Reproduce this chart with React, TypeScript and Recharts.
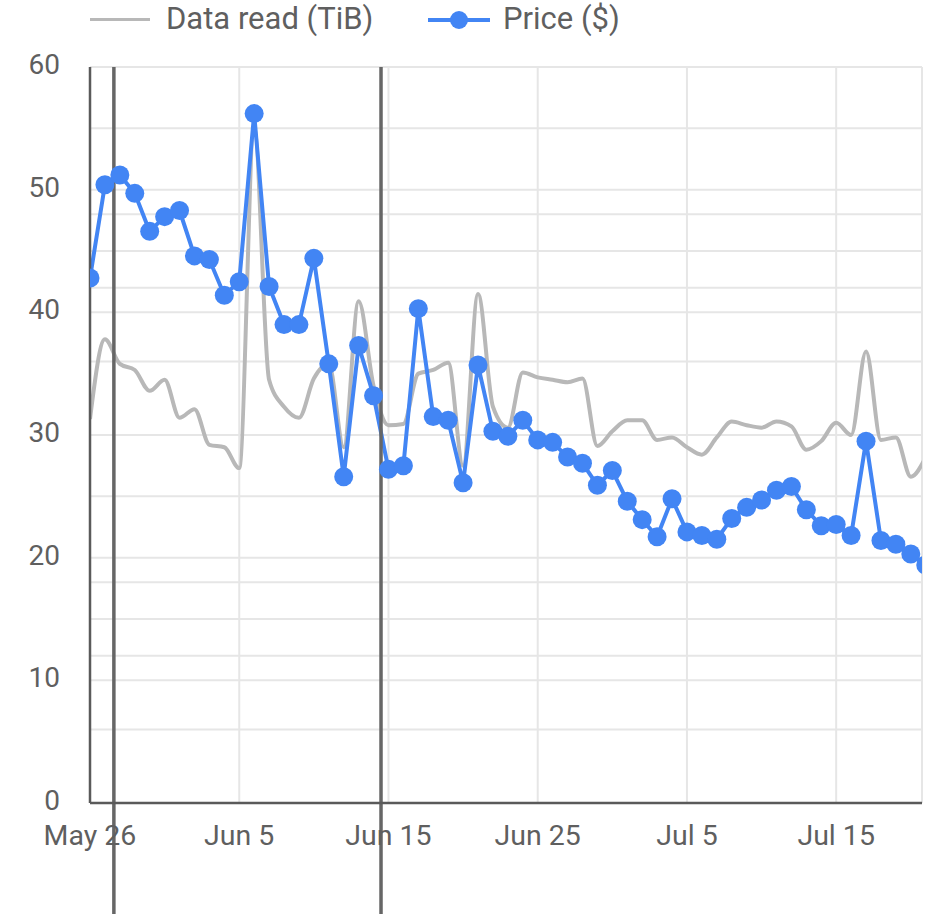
import { LineChart, Line, XAxis, YAxis, CartesianGrid, ReferenceLine } from 'recharts'

// day 0 = May 26; one entry per day
const priceUsd = [
  42.8, 50.4, 51.2, 49.7, 46.6, 47.8, 48.3, 44.6, 44.3, 41.4,
  42.5, 56.2, 42.1, 39.0, 39.0, 44.4, 35.8, 26.6, 37.3, 33.2,
  27.2, 27.5, 40.3, 31.5, 31.2, 26.1, 35.7, 30.3, 29.9, 31.2,
  29.6, 29.4, 28.2, 27.7, 25.9, 27.1, 24.6, 23.1, 21.7, 24.8,
  22.1, 21.8, 21.5, 23.2, 24.1, 24.7, 25.5, 25.8, 23.9, 22.6,
  22.7, 21.8, 29.5, 21.4, 21.1, 20.3, 19.4,
]
const dataReadTib = [
  31.3, 37.8, 35.8, 35.3, 33.6, 34.5, 31.4, 32.1, 29.2, 29.0,
  27.3, 55.0, 34.5, 32.3, 31.4, 34.6, 35.8, 29.0, 40.9, 34.0,
  30.8, 30.9, 35.0, 35.3, 35.9, 27.5, 41.5, 32.3, 30.6, 35.1,
  34.7, 34.5, 34.3, 34.6, 29.1, 30.3, 31.2, 31.2, 29.6, 29.8,
  29.0, 28.4, 29.8, 31.1, 30.8, 30.6, 31.1, 30.7, 28.8, 29.5,
  31.0, 30.0, 36.8, 29.6, 29.8, 26.6, 28.2,
]
const tickDays = [0, 10, 20, 30, 40, 50]
const tickLabels = ['May 26', 'Jun 5', 'Jun 15', 'Jun 25', 'Jul 5', 'Jul 15']
const yTicks = [0, 10, 20, 30, 40, 50, 60]
// major ticks, minor lines (every 5) and the hidden data-read axis grid (every 6)
const gridValues = [0, 5, 6, 10, 12, 15, 18, 20, 24, 25, 30, 35, 36, 40, 42, 45, 48, 50, 54, 55, 60]
const eventDays = [1.6, 19.5]

const data = priceUsd.map((p, i) => ({ day: i, price: p, read: dataReadTib[i] }))

const FONT = 'Roboto, "Noto Sans", sans-serif'
const TEXT = '#5f5f5f'
const BLUE = '#4285f4'
const GREY = '#b8b8b8'

export default function App() {
  return (
    <div style={{ position: 'absolute', left: 0, top: 0, width: 933, height: 914, background: '#fff', fontFamily: FONT }}>
      <div style={{ position: 'absolute', left: 0, top: 0, height: 40, width: 933, fontSize: 31, color: TEXT }}>
        <span style={{ position: 'absolute', left: 90, top: 18, width: 60, height: 3, background: GREY }} />
        <span style={{ position: 'absolute', left: 166, top: 1, lineHeight: '36px' }}>Data read (TiB)</span>
        <span style={{ position: 'absolute', left: 428, top: 18, width: 62, height: 4, background: BLUE }} />
        <span style={{ position: 'absolute', left: 450, top: 11, width: 18, height: 18, borderRadius: 9, background: BLUE }} />
        <span style={{ position: 'absolute', left: 503, top: 1, lineHeight: '36px' }}>Price ($)</span>
      </div>
      <LineChart width={933} height={914} data={data} margin={{ top: 67, right: 11, bottom: 81, left: 0 }}>
        <CartesianGrid stroke="#e6e6e6" strokeWidth={2} yAxisId="grid" />
        <XAxis
          dataKey="day"
          type="number"
          domain={[0, 55.75]}
          allowDataOverflow
          ticks={tickDays}
          tickFormatter={(d: number) => tickLabels[tickDays.indexOf(d)] ?? ''}
          tickLine={false}
          tickSize={0}
          tickMargin={22}
          axisLine={{ stroke: '#5a5a5a', strokeWidth: 2.5 }}
          tick={{ fill: TEXT, fontSize: 28.5, fontFamily: FONT }}
        />
        <YAxis yAxisId="grid" hide domain={[0, 60]} ticks={gridValues} allowDataOverflow />
        <YAxis
          width={90}
          domain={[0, 60]}
          ticks={yTicks}
          allowDataOverflow
          tickLine={false}
          tickSize={0}
          tickMargin={30}
          axisLine={{ stroke: '#5a5a5a', strokeWidth: 2.5 }}
          tick={{ fill: TEXT, fontSize: 28, fontFamily: FONT, dy: -3 }}
        />
        <Line
          type="monotone"
          dataKey="read"
          stroke={GREY}
          strokeWidth={4}
          dot={false}
          activeDot={false}
          isAnimationActive={false}
        />
        <Line
          type="linear"
          dataKey="price"
          stroke={BLUE}
          strokeWidth={4}
          dot={{ r: 9.5, fill: BLUE, stroke: 'none' }}
          activeDot={false}
          isAnimationActive={false}
        />
        {eventDays.map(d => (
          <ReferenceLine
            key={d}
            segment={[{ x: d, y: 60 }, { x: d, y: -9.3 }]}
            stroke="#666"
            strokeWidth={3.5}
            ifOverflow="visible"
          />
        ))}
      </LineChart>
    </div>
  )
}
